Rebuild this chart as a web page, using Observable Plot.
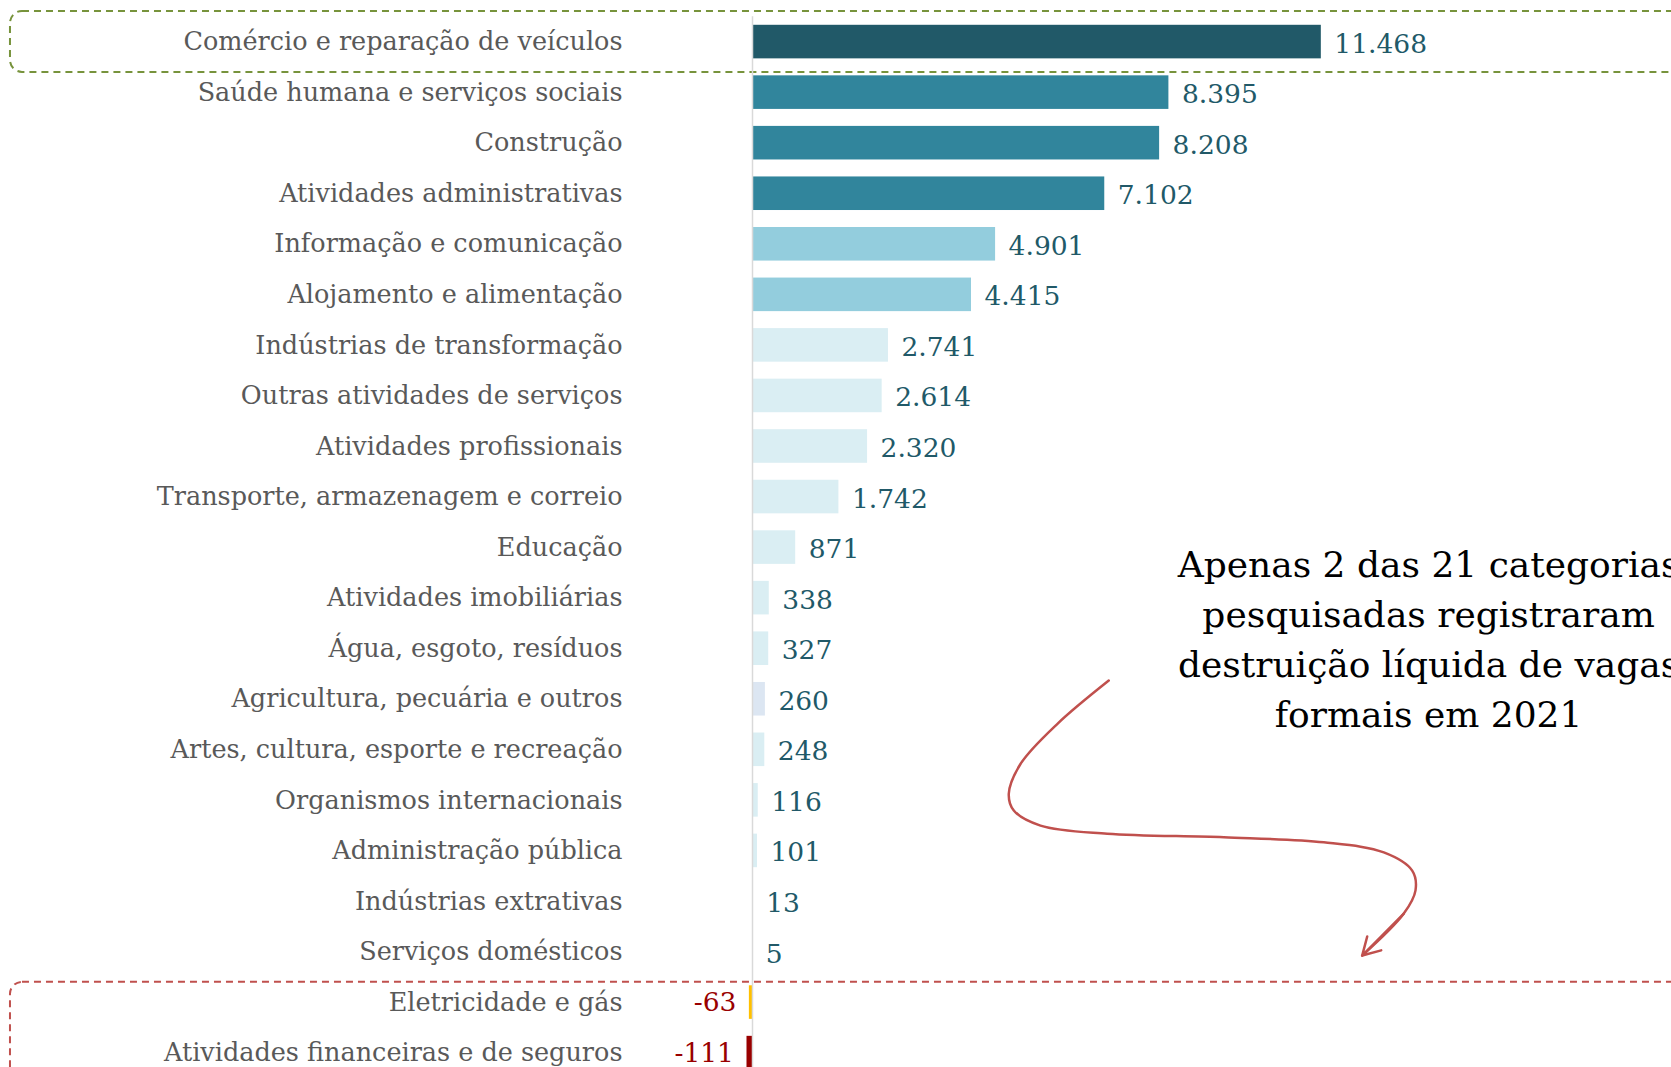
<!DOCTYPE html>
<html>
<head>
<meta charset="utf-8">
<script src="https://cdn.jsdelivr.net/npm/d3@7"></script>
<script src="https://cdn.jsdelivr.net/npm/@observablehq/plot@0.6"></script>
<style>
  html, body { margin: 0; padding: 0; background: #ffffff; }
  #chart svg { display: block; }
</style>
</head>
<body>
<div id="chart"></div>
<script>
// ---- Data ----
const categories = [
  "Comércio e reparação de veículos",
  "Saúde humana e serviços sociais",
  "Construção",
  "Atividades administrativas",
  "Informação e comunicação",
  "Alojamento e alimentação",
  "Indústrias de transformação",
  "Outras atividades de serviços",
  "Atividades profissionais",
  "Transporte, armazenagem e correio",
  "Educação",
  "Atividades imobiliárias",
  "Água, esgoto, resíduos",
  "Agricultura, pecuária e outros",
  "Artes, cultura, esporte e recreação",
  "Organismos internacionais",
  "Administração pública",
  "Indústrias extrativas",
  "Serviços domésticos",
  "Eletricidade e gás",
  "Atividades financeiras e de seguros"
];
const values = [11468, 8395, 8208, 7102, 4901, 4415, 2741, 2614, 2320, 1742, 871, 338, 327, 260, 248, 116, 101, 13, 5, -63, -111];

// ---- Styles ----
const barColors = [
  "#215968", "#31859C", "#31859C", "#31859C", "#93CDDD", "#93CDDD",
  "#DAEEF3", "#DAEEF3", "#DAEEF3", "#DAEEF3", "#DAEEF3", "#DAEEF3", "#DAEEF3",
  "#DCE6F2", "#DAEEF3", "#DAEEF3", "#DAEEF3", "#DAEEF3", "#DAEEF3",
  "#FFC000", "#990000"
];

// ---- Annotation ----
const annotationText = "Apenas 2 das 21 categorias\npesquisadas registraram\ndestruição líquida de vagas\nformais em 2021";
const annotationAt = {value: 13630, row: 11.75};
// arrow path in (value, row) units
const arrowPath = [
  [7183, 12.63], [6143, 13.49], [5403, 14.28], [5167, 14.87], [5268, 15.20],
  [5806, 15.50], [7151, 15.66], [9502, 15.73], [11518, 15.83], [12728, 16.03],
  [13300, 16.39], [13367, 16.78], [13131, 17.24], [12292, 18.07]
];
const highlightBoxes = [
  {x1: -14960, x2: 20000, y1: -0.605, y2: 0.60, stroke: "#77933C"},
  {x1: -14960, x2: 20000, y1: 18.60, y2: 21.5, stroke: "#C0504D"}
];

const data = categories.map((name, i) => ({name, value: values[i], i, color: barColors[i]}));
const fmt = d3.formatLocale({decimal: ",", thousands: ".", grouping: [3], currency: ["R$", ""], minus: "-"}).format(",d");
const arrowHead = [arrowPath.slice(-2)];

const chart = Plot.plot({
  width: 1671,
  height: 1067,
  marginLeft: 752,
  marginRight: 0,
  marginTop: 0,
  marginBottom: 0,
  x: {domain: [0, 18528], axis: null},
  y: {domain: [-0.5, 20.5], range: [16.3, 1077.9], axis: null},
  color: {type: "identity"},
  style: {fontFamily: "'DejaVu Serif', serif", background: "#ffffff", overflow: "hidden"},
  marks: [
    Plot.rect(highlightBoxes, {
      x1: "x1", x2: "x2", y1: "y1", y2: "y2",
      fill: "none", stroke: "stroke", strokeWidth: 2, strokeDasharray: "7,5", rx: 12
    }),
    Plot.rect(data, {
      x1: 0, x2: "value",
      y1: d => d.i - 0.332, y2: d => d.i + 0.332,
      fill: "color"
    }),
    Plot.ruleX([0], {y1: -0.5, y2: 21, stroke: "#D9D9D9", strokeWidth: 1.5}),
    Plot.text(data, {
      frameAnchor: "left", y: "i", text: "name",
      textAnchor: "end", dx: -130, fill: "#595959", fontSize: 25.5
    }),
    Plot.text(data.filter(d => d.value >= 0), {
      x: "value", y: "i", text: d => fmt(d.value),
      textAnchor: "start", dx: 13, dy: 2, fill: "#215968", fontSize: 26.5
    }),
    Plot.text(data.filter(d => d.value < 0), {
      x: "value", y: "i", text: d => fmt(d.value),
      textAnchor: "end", dx: -13, fill: "#990000", fontSize: 26.5
    }),
    Plot.line(arrowPath, {
      x: d => d[0], y: d => d[1], curve: "catmull-rom",
      stroke: "#C0504D", strokeWidth: 2.5
    }),
    Plot.arrow(arrowHead, {
      x1: d => d[0][0], y1: d => d[0][1], x2: d => d[1][0], y2: d => d[1][1],
      stroke: "#C0504D", strokeWidth: 2.5, headLength: 20, headAngle: 60
    }),
    Plot.text([annotationAt], {
      x: "value", y: "row", text: () => annotationText,
      textAnchor: "middle", lineAnchor: "middle", lineHeight: 1.39,
      fontSize: 36, fill: "#000000"
    })
  ]
});
document.getElementById("chart").appendChild(chart);
</script>
</body>
</html>
